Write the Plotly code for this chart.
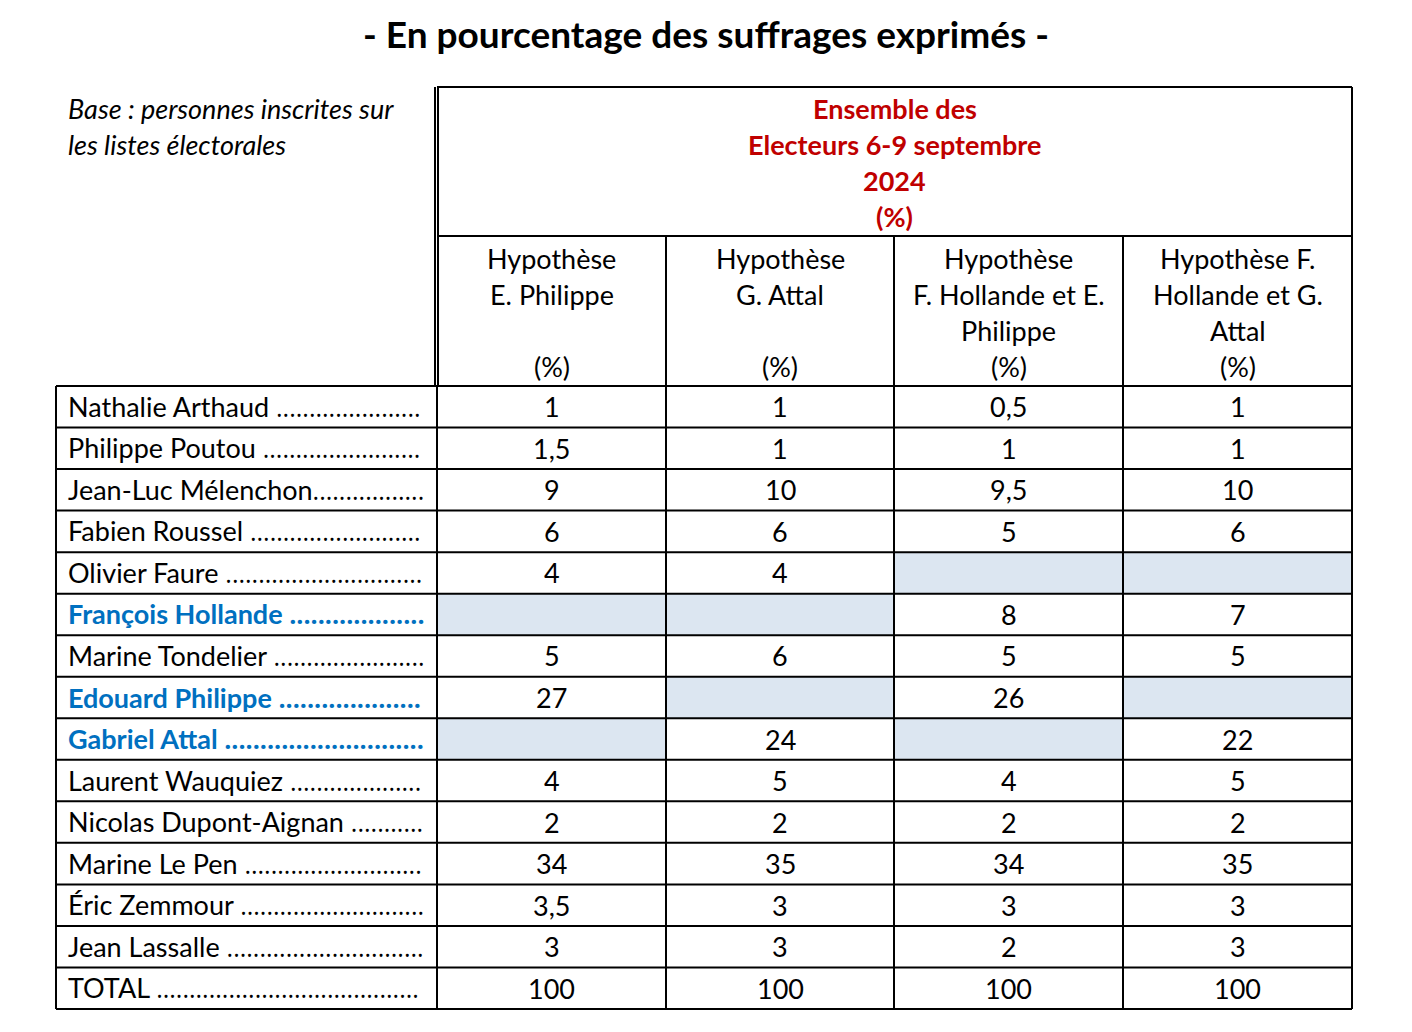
import plotly.graph_objects as go

# --- data ---
title = "- En pourcentage des suffrages exprimés -"
base_note = ["Base : personnes inscrites sur", "les listes électorales"]
group_header = ["Ensemble des", "Electeurs 6-9 septembre", "2024", "(%)"]
hypotheses = [
    ["Hypothèse", "E. Philippe", "", "(%)"],
    ["Hypothèse", "G. Attal", "", "(%)"],
    ["Hypothèse", "F. Hollande et E.", "Philippe", "(%)"],
    ["Hypothèse F.", "Hollande et G.", "Attal", "(%)"],
]
candidates = [
    "Nathalie Arthaud", "Philippe Poutou", "Jean-Luc Mélenchon", "Fabien Roussel",
    "Olivier Faure", "François Hollande", "Marine Tondelier", "Edouard Philippe",
    "Gabriel Attal", "Laurent Wauquiez", "Nicolas Dupont-Aignan", "Marine Le Pen",
    "Éric Zemmour", "Jean Lassalle", "TOTAL",
]
# number of leader dots printed after each name
leader_dots = [22, 24, 17, 26, 30, 19, 23, 20, 28, 20, 11, 27, 28, 30, 40]
highlighted = ["François Hollande", "Edouard Philippe", "Gabriel Attal"]
hyp_philippe = ["1", "1,5", "9", "6", "4", None, "5", "27", None, "4", "2", "34", "3,5", "3", "100"]
hyp_attal = ["1", "1", "10", "6", "4", None, "6", None, "24", "5", "2", "35", "3", "3", "100"]
hyp_hollande_philippe = ["0,5", "1", "9,5", "5", None, "8", "5", "26", None, "4", "2", "34", "3", "2", "100"]
hyp_hollande_attal = ["1", "1", "10", "6", None, "7", "5", None, "22", "5", "2", "35", "3", "3", "100"]
columns = [hyp_philippe, hyp_attal, hyp_hollande_philippe, hyp_hollande_attal]

# --- geometry (page pixels; page body has an 8px margin) ---
W, H = 1412, 1032
PAD = 8
col_x = [56, 437, 666, 894, 1123, 1352]
head_top, head_mid, head_bot, table_bot = 87, 236, 386, 1009
row_h = (table_bot - head_bot) / len(candidates)
FONT = "Lato"
DOT_FONT = "Open Sans"
BLUE = "#0070C0"
RED = "#C00000"
SHADE = "#DCE6F1"
LW = 2
FS = 27

fig = go.Figure()
shapes = []
ann = []


def line(x0, y0, x1, y1, w=LW):
    shapes.append(dict(type="line", x0=x0, y0=y0, x1=x1, y1=y1, xref="x", yref="y",
                       line=dict(color="black", width=w)))


def text(x, y, s, size=FS, color="black", bold=False, italic=False, anchor="center"):
    if bold:
        s = "<b>" + s + "</b>"
    if italic:
        s = "<i>" + s + "</i>"
    ann.append(dict(x=x, y=y, xref="x", yref="y", text=s, showarrow=False, xanchor=anchor,
                    yanchor="middle", font=dict(family=FONT, size=size, color=color)))


# shaded empty cells
for c, vals in enumerate(columns):
    for r, v in enumerate(vals):
        if v is None:
            y0 = head_bot + r * row_h
            shapes.append(dict(type="rect", x0=col_x[c + 1], x1=col_x[c + 2], y0=y0, y1=y0 + row_h,
                               xref="x", yref="y", fillcolor=SHADE, line=dict(width=0), layer="below"))

# header box
line(col_x[1], head_top, col_x[-1], head_top)
line(col_x[1] - 2, head_top, col_x[1] - 2, head_bot)
line(col_x[1] + 1, head_top, col_x[1] + 1, head_bot)
line(col_x[-1], head_top, col_x[-1], table_bot)
line(col_x[1], head_mid, col_x[-1], head_mid)
for x in col_x[2:-1]:
    line(x, head_mid, x, table_bot)
# body grid
line(col_x[0], head_bot, col_x[-1], head_bot)
line(col_x[0], head_bot, col_x[0], table_bot)
line(col_x[1], head_bot, col_x[1], table_bot)
for r in range(1, len(candidates) + 1):
    line(col_x[0], head_bot + r * row_h, col_x[-1], head_bot + r * row_h)

# title and notes
text(W / 2, 33, title, size=37, bold=True)
for i, s in enumerate(base_note):
    text(66, 108 + 36 * i, s, italic=True, anchor="left")
gx = (col_x[1] + col_x[-1]) / 2
for i, s in enumerate(group_header):
    text(gx, 108 + 36 * i, s, color=RED, bold=True)
for c, lines_ in enumerate(hypotheses):
    cx = (col_x[c + 1] + col_x[c + 2]) / 2
    for i, s in enumerate(lines_):
        if s:
            text(cx, 258 + 36 * i, s)

# rows
for r, name in enumerate(candidates):
    cy = head_bot + (r + 0.5) * row_h
    hl = name in highlighted
    col = BLUE if hl else "black"
    sep = "" if name == "Jean-Luc Mélenchon" else " "
    dots = '<span style="font-family:%s;font-size:25px">%s</span>' % (DOT_FONT, "." * leader_dots[r])
    text(66, cy, name + sep + dots, color=col, bold=hl, anchor="left")
    for c, vals in enumerate(columns):
        if vals[r] is not None:
            text((col_x[c + 1] + col_x[c + 2]) / 2, cy, vals[r])

fig.update_layout(
    width=W - 2 * PAD, height=H - 2 * PAD, margin=dict(l=0, r=0, t=0, b=0),
    paper_bgcolor="white", plot_bgcolor="white",
    xaxis=dict(range=[PAD, W - PAD], visible=False, fixedrange=True),
    yaxis=dict(range=[H - PAD, PAD], visible=False, fixedrange=True),
    shapes=shapes, annotations=ann, showlegend=False,
)
fig.write_html("out.html")
